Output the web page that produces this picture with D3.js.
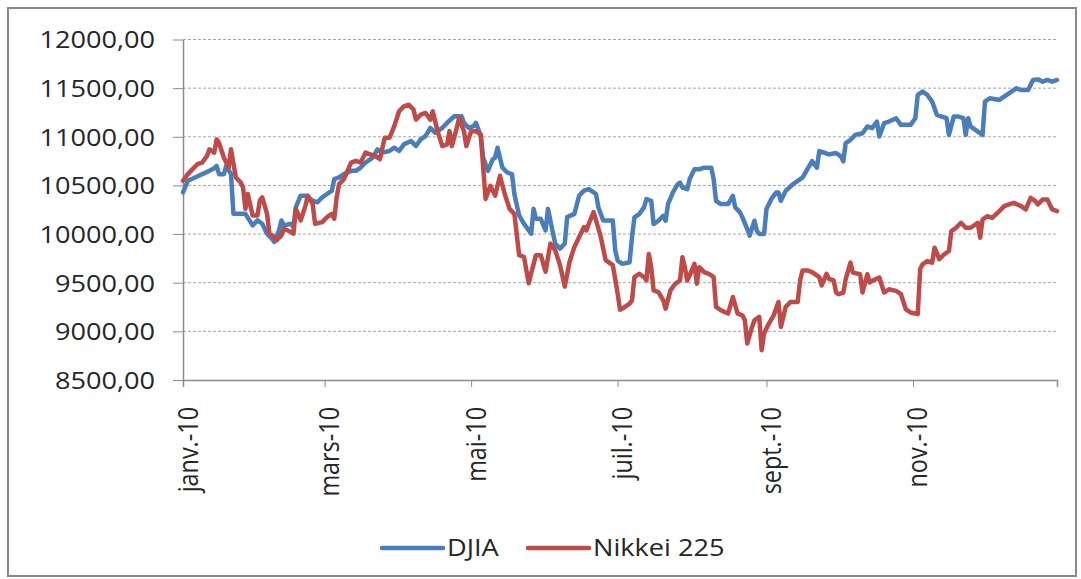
<!DOCTYPE html>
<html>
<head>
<meta charset="utf-8">
<script src="https://cdn.jsdelivr.net/npm/d3@7"></script>
<style>
  body { margin: 0; background: #fff; }
  svg text { font-family: "Open Sans", sans-serif; fill: #262626; }
</style>
</head>
<body>
<svg id="chart" width="1081" height="579"></svg>
<script>
// Data: day offsets from 1 Jan 2010 and index levels
const START_DATE = new Date(2010, 0, 1);
const END_DATE = new Date(2010, 11, 31);

const seriesNames = ["DJIA", "Nikkei 225"];

const djiaDays = [0,2,5,8,11,13,14,15,17,18,20,21,24,26,29,31,33,35,37,38,40,41,42,45,46,47,49,51,54,56,58,60,62,63,65,67,70,72,74,76,79,81,83,86,
  88,90,92,95,97,99,101,103,105,108,110,113,116,117,119,121,122,124,125,127,129,130,131,133,135,137,138,140,142,145,146,147,149,151,152,154,155,157,159,160,163,165,167,169,172,173,175,179,180,
  181,183,186,187,188,190,192,193,195,196,198,200,201,202,204,206,207,208,210,211,213,215,217,220,221,222,224,227,229,230,232,233,235,236,238,239,240,242,243,245,247,248,249,251,254,256,258,260,262,264,265,267,269,
  272,274,275,276,278,280,283,285,287,289,290,292,294,297,299,303,305,306,308,310,312,314,316,318,319,321,323,325,326,327,328,330,333,334,336,340,342,344,347,349,352,354,356,358,360,362,364];

const djiaValues = [10429,10548,10582,10616,10650,10677,10700,10616,10616,10700,10616,10208,10208,10208,10089,10140,10106,10004,9953,9919,10038,10140,10089,10106,10072,10276,10395,10395,10344,10327,10378,10412,10446,10565,10582,10616,10650,10650,10684,10735,10786,10871,10837,10854,
  10888,10854,10922,10956,10905,10973,11007,11092,11041,11092,11143,11211,11211,11143,11092,11109,11143,11007,10786,10650,10769,10786,10888,10684,10633,10616,10412,10191,10106,10004,10259,10157,10157,10038,10259,10021,9902,9851,9902,10174,10208,10395,10446,10463,10412,10276,10140,10140,9834,
  9728,9694,9711,9967,10171,10205,10274,10359,10342,10103,10137,10188,10137,10308,10427,10512,10529,10478,10461,10564,10666,10666,10683,10683,10564,10342,10308,10308,10393,10274,10223,10171,10052,9984,10137,10035,10001,10001,10257,10359,10427,10427,10342,10444,10512,10546,10581,10666,10751,10683,10853,10836,10819,
  10833,10799,10747,10935,10969,11020,11037,11106,11089,11157,11003,11140,11157,11191,11123,11123,11191,11430,11464,11430,11362,11225,11208,11191,11020,11208,11208,11191,11020,11191,11106,11072,11020,11362,11396,11379,11413,11447,11498,11481,11481,11584,11590,11567,11584,11567,11584];

const nikkeiDays = [0,2,4,6,8,10,11,13,14,15,17,19,20,22,24,25,26,27,29,31,32,33,35,36,38,39,41,42,45,46,47,49,51,52,54,55,58,60,62,63,64,65,67,70,72,74,76,78,80,82,84,86,88,
  90,92,94,96,97,99,101,103,104,106,108,110,111,112,114,115,117,118,120,122,124,126,128,130,132,134,136,138,140,142,144,145,147,149,151,153,155,157,159,161,163,165,167,168,169,171,172,174,176,179,181,182,
  183,186,187,188,190,192,193,194,195,196,198,200,201,203,205,207,208,209,210,211,213,214,215,217,219,221,222,224,227,229,231,233,234,235,237,238,240,241,242,244,246,248,249,251,253,256,257,258,260,262,265,266,268,269,271,
  272,273,275,276,278,279,282,283,285,286,287,290,292,294,297,299,301,303,306,307,308,310,312,313,315,317,319,320,322,324,326,328,331,332,333,335,337,340,342,344,346,349,351,353,355,356,358,360,362,364];

const nikkeiValues = [10548,10616,10667,10718,10735,10803,10871,10837,10973,10939,10786,10684,10871,10582,10531,10480,10259,10412,10191,10191,10344,10378,10208,10004,9970,9936,9987,10055,10021,10004,10259,10140,10293,10395,10310,10106,10123,10174,10208,10157,10378,10514,10565,10735,10752,10735,10837,10820,10803,10769,10990,10990,11109,
  11262,11313,11330,11279,11177,11228,11245,11177,11262,11058,10905,10922,11058,10905,11092,11194,11058,10905,11058,11058,11024,10361,10497,10395,10599,10412,10259,10208,9783,9766,9494,9596,9783,9783,9613,9902,9834,9681,9460,9715,9868,9970,10072,10038,10106,10225,10140,9970,9732,9681,9392,9222,
  9234,9285,9319,9558,9592,9558,9523,9796,9660,9421,9404,9319,9234,9421,9489,9523,9762,9660,9523,9575,9694,9489,9660,9609,9592,9558,9251,9217,9183,9353,9183,9165,9114,8876,9046,9114,9148,8807,8978,9080,9165,9302,9046,9251,9302,9302,9523,9626,9626,9609,9558,9472,9592,9540,9523,
  9399,9382,9399,9536,9706,9604,9587,9399,9587,9502,9519,9553,9399,9433,9416,9382,9229,9194,9177,9638,9689,9723,9706,9860,9741,9792,9826,10031,10065,10116,10065,10065,10116,9962,10150,10184,10167,10236,10287,10304,10321,10287,10253,10372,10338,10304,10355,10355,10253,10236];

const yTicks = [8500, 9000, 9500, 10000, 10500, 11000, 11500, 12000];
const xTickDates = ["2010-01-01", "2010-03-01", "2010-05-01", "2010-07-01", "2010-09-01", "2010-11-01"];
const xTickLabels = ["janv.-10", "mars-10", "mai-10", "juil.-10", "sept.-10", "nov.-10"];

// Layout and style
const PLOT = { left: 183, right: 1057, top: 39.5, bottom: 380 };
const COLORS = ["#4a7ebb", "#be4b48"];
const AXIS_COLOR = "#8c8c8c";
const FONT_SIZE = 23.4;
const STRETCH = 1.16;   // the picture is wider than tall, so glyphs are stretched

const svg = d3.select("#chart");

function toSeries(days, values) {
  return days.map(function(d, i) {
    return { date: d3.timeDay.offset(START_DATE, d), value: values[i] };
  });
}

const series = [toSeries(djiaDays, djiaValues), toSeries(nikkeiDays, nikkeiValues)];

const x = d3.scaleTime()
  .domain([START_DATE, END_DATE])
  .range([PLOT.left, PLOT.right]);

const y = d3.scaleLinear()
  .domain([8500, 12000])
  .range([PLOT.bottom, PLOT.top]);

// Chart frame
svg.append("rect")
  .attr("x", 8)
  .attr("y", 8)
  .attr("width", 1068)
  .attr("height", 568)
  .attr("fill", "none")
  .attr("stroke", "#8a8a8a")
  .attr("stroke-width", 2);

// Dashed gridlines
svg.append("g")
  .selectAll("line")
  .data(yTicks.filter(function(v) { return v > 8500; }))
  .join("line")
  .attr("x1", PLOT.left)
  .attr("x2", PLOT.right)
  .attr("y1", function(d) { return y(d); })
  .attr("y2", function(d) { return y(d); })
  .attr("stroke", "#a6a6a6")
  .attr("stroke-width", 1)
  .attr("stroke-dasharray", "3,2");

// Y axis
const yAxis = d3.axisLeft(y)
  .tickValues(yTicks)
  .tickSize(10)
  .tickSizeOuter(0)
  .tickFormat(function(d) { return d3.format(".2f")(d).replace(".", ","); });

const yAxisG = svg.append("g")
  .attr("transform", "translate(" + PLOT.left + ",0)")
  .call(yAxis)
  .attr("font-family", null)
  .attr("font-size", null);

yAxisG.select(".domain").attr("stroke", AXIS_COLOR).attr("stroke-width", 1.5);
yAxisG.selectAll(".tick line").attr("stroke", AXIS_COLOR);
yAxisG.selectAll(".tick text")
  .attr("font-size", FONT_SIZE)
  .attr("x", -28 / STRETCH)
  .attr("dy", "0.36em")
  .attr("transform", "scale(" + STRETCH + ",1)");

// X axis
const xAxis = d3.axisBottom(x)
  .tickValues(xTickDates.map(function(s) { return d3.timeParse("%Y-%m-%d")(s); }))
  .tickSize(7)
  .tickSizeOuter(7)
  .tickFormat(function(d, i) { return xTickLabels[i]; });

const xAxisG = svg.append("g")
  .attr("transform", "translate(0," + PLOT.bottom + ")")
  .call(xAxis)
  .attr("font-family", null)
  .attr("font-size", null);

xAxisG.select(".domain").attr("stroke", AXIS_COLOR).attr("stroke-width", 1.5);
xAxisG.selectAll(".tick line").attr("stroke", AXIS_COLOR);
xAxisG.selectAll(".tick text")
  .attr("font-size", FONT_SIZE)
  .attr("text-anchor", "end")
  .attr("x", -27)
  .attr("y", 14 / STRETCH)
  .attr("dy", 0)
  .attr("transform", "scale(" + STRETCH + ",1) rotate(-90)");

// Series lines
const line = d3.line()
  .x(function(d) { return x(d.date); })
  .y(function(d) { return y(d.value); });

series.forEach(function(data, i) {
  svg.append("path")
    .datum(data)
    .attr("fill", "none")
    .attr("stroke", COLORS[i])
    .attr("stroke-width", 4.5)
    .attr("stroke-linejoin", "round")
    .attr("stroke-linecap", "round")
    .attr("d", line);
});

// Legend
const LEGEND_Y = 548;
const legendX = [382, 528];

seriesNames.forEach(function(name, i) {
  svg.append("line")
    .attr("x1", legendX[i])
    .attr("x2", legendX[i] + 61)
    .attr("y1", LEGEND_Y)
    .attr("y2", LEGEND_Y)
    .attr("stroke", COLORS[i])
    .attr("stroke-width", 4.5)
    .attr("stroke-linecap", "round");

  svg.append("g")
    .attr("transform", "translate(" + (legendX[i] + 65) + "," + LEGEND_Y + ") scale(" + STRETCH + ",1)")
    .append("text")
    .attr("font-size", FONT_SIZE)
    .attr("dy", "0.36em")
    .text(name);
});
</script>
</body>
</html>
